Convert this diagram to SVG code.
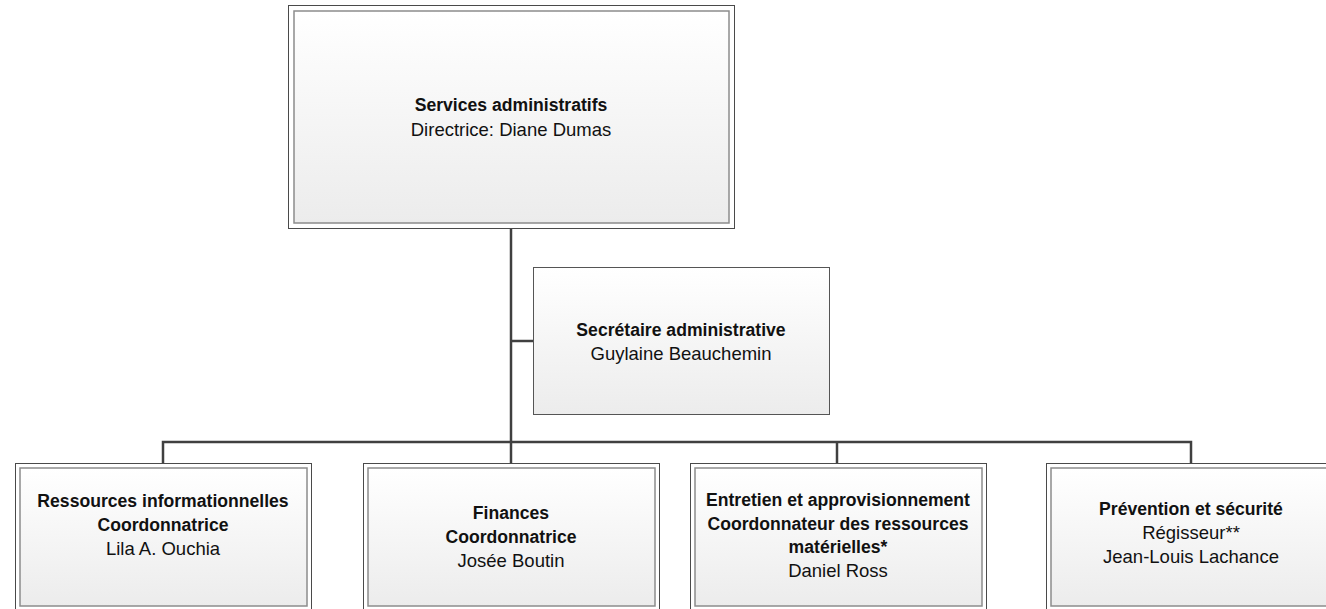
<svg xmlns="http://www.w3.org/2000/svg" width="1326" height="609" viewBox="0 0 1326 609">
<style>
text{font-family:"Liberation Sans",Arial,sans-serif;font-size:18.5px;fill:#111;text-anchor:middle}
.b{font-weight:bold;font-size:17.6px}
.o{fill:none;stroke:#4a4a4a;stroke-width:1}
.i{fill:url(#g);stroke:#8c8c8c;stroke-width:1.5}
.s{fill:url(#g);stroke:#555;stroke-width:1}
.c{fill:none;stroke:#404040;stroke-width:2.5}
</style>
<defs>
<linearGradient id="g" x1="0" y1="0" x2="0" y2="1">
<stop offset="0" stop-color="#ffffff"/>
<stop offset="1" stop-color="#ececec"/>
</linearGradient>
</defs>
<rect width="1326" height="609" fill="#fff"/>
<g id="connectors">
<path class="c" d="M511 229 V442"/>
<path class="c" d="M511 341 H533"/>
<path class="c" d="M163 463 V442 H1191 V463"/>
<path class="c" d="M511 442 V463"/>
<path class="c" d="M837 442 V463"/>
</g>
<g id="n-services">
<rect class="o" x="288.5" y="5.5" width="446" height="223"/>
<rect class="i" x="294" y="11" width="435" height="212"/>
<text class="b" x="511" y="111">Services administratifs</text>
<text x="511" y="136">Directrice: Diane Dumas</text>
</g>
<g id="n-secretaire">
<rect class="s" x="533.5" y="267.5" width="296" height="147"/>
<text class="b" x="681" y="336">Secrétaire administrative</text>
<text x="681" y="360">Guylaine Beauchemin</text>
</g>
<g id="n-ressources">
<rect class="o" x="15.5" y="463.5" width="296" height="148"/>
<rect class="i" x="20" y="468" width="287" height="138"/>
<text class="b" x="163" y="507">Ressources informationnelles</text>
<text class="b" x="163" y="531">Coordonnatrice</text>
<text x="163" y="555">Lila A. Ouchia</text>
</g>
<g id="n-finances">
<rect class="o" x="363.5" y="463.5" width="296" height="148"/>
<rect class="i" x="368" y="468" width="287" height="138"/>
<text class="b" x="511" y="519">Finances</text>
<text class="b" x="511" y="543">Coordonnatrice</text>
<text x="511" y="567">Josée Boutin</text>
</g>
<g id="n-entretien">
<rect class="o" x="690.5" y="463.5" width="296" height="148"/>
<rect class="i" x="695" y="468" width="287" height="138"/>
<text class="b" x="838" y="506">Entretien et approvisionnement</text>
<text class="b" x="838" y="530">Coordonnateur des ressources</text>
<text class="b" x="838" y="553">matérielles*</text>
<text x="838" y="577">Daniel Ross</text>
</g>
<g id="n-prevention">
<rect class="o" x="1046.5" y="463.5" width="296" height="148"/>
<rect class="i" x="1051" y="468" width="287" height="138"/>
<text class="b" x="1191" y="515">Prévention et sécurité</text>
<text x="1191" y="539">Régisseur**</text>
<text x="1191" y="563">Jean-Louis Lachance</text>
</g>
</svg>
